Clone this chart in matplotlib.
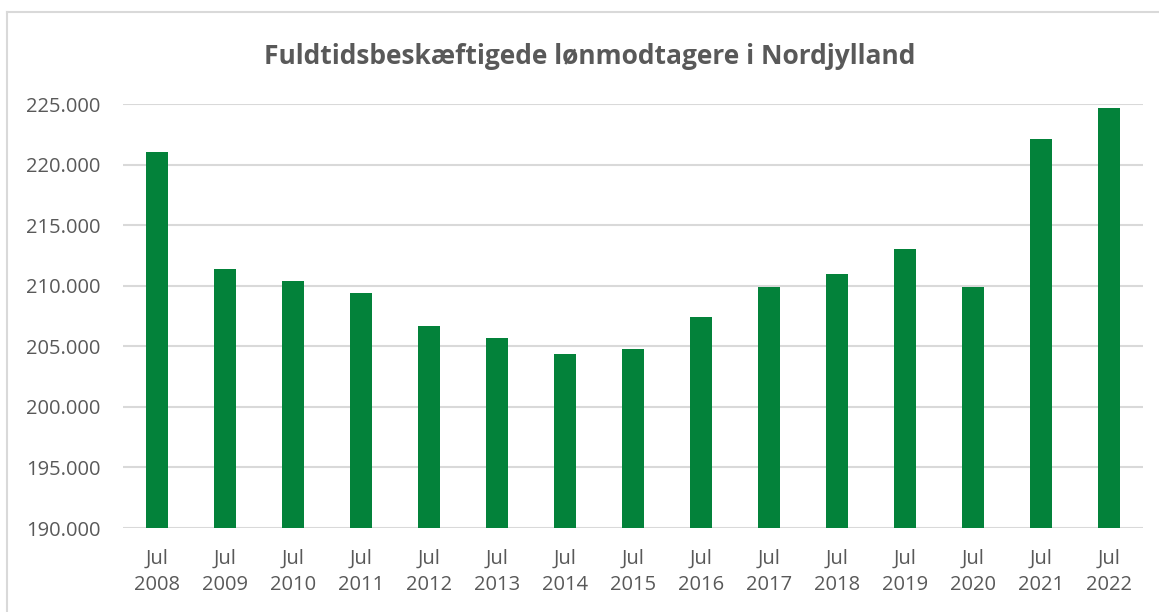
import matplotlib
matplotlib.use("Agg")
import matplotlib.pyplot as plt
from matplotlib.lines import Line2D

years = ["2008", "2009", "2010", "2011", "2012", "2013", "2014", "2015",
         "2016", "2017", "2018", "2019", "2020", "2021", "2022"]
values = [221000, 211400, 210400, 209400, 206700, 205700, 204400, 204800,
          207400, 209900, 211000, 213000, 209900, 222100, 224700]
yticks = [190000, 195000, 200000, 205000, 210000, 215000, 220000, 225000]
title = "Fuldtidsbeskæftigede lønmodtagere i Nordjylland"

W, H = 1159, 612
fig = plt.figure(figsize=(W / 100, H / 100), dpi=100)
fig.patch.set_facecolor("white")

# outer chart border
fig.add_artist(Line2D([7 / W, 1.0], [1 - 12 / H, 1 - 12 / H], transform=fig.transFigure,
                      color="#D9D9D9", lw=1.5))
fig.add_artist(Line2D([7 / W, 7 / W], [0, 1 - 12 / H], transform=fig.transFigure,
                      color="#D9D9D9", lw=1.5))

ax = fig.add_axes([123 / W, 1 - 528 / H, (1143 - 123) / W, (528 - 104) / H])
x = list(range(len(years)))
ax.bar(x, values, width=0.32, color="#03823A", zorder=3)
ax.set_xlim(-0.5, len(years) - 0.5)
ax.set_ylim(190000, 225000)
ax.set_yticks(yticks)
ax.set_yticklabels([f"{v:,.0f}".replace(",", ".") for v in yticks])
ax.set_xticks(x)
ax.set_xticklabels([f"Jul\n{y}" for y in years], linespacing=1.4)
ax.grid(axis="y", color="#D9D9D9", lw=1.5, zorder=0)
for s in ax.spines.values():
    s.set_visible(False)
ax.tick_params(axis="both", length=0, colors="#595959", labelsize=14.5)
ax.tick_params(axis="x", pad=15)
ax.tick_params(axis="y", pad=16)
for lbl in ax.get_xticklabels() + ax.get_yticklabels():
    lbl.set_fontfamily("Open Sans")

fig.text(590 / W, 1 - 57 / H, title, ha="center", va="center", fontsize=19,
         fontweight="bold", color="#595959", family="Open Sans")

fig.savefig("out.png", dpi=100, facecolor="white")
